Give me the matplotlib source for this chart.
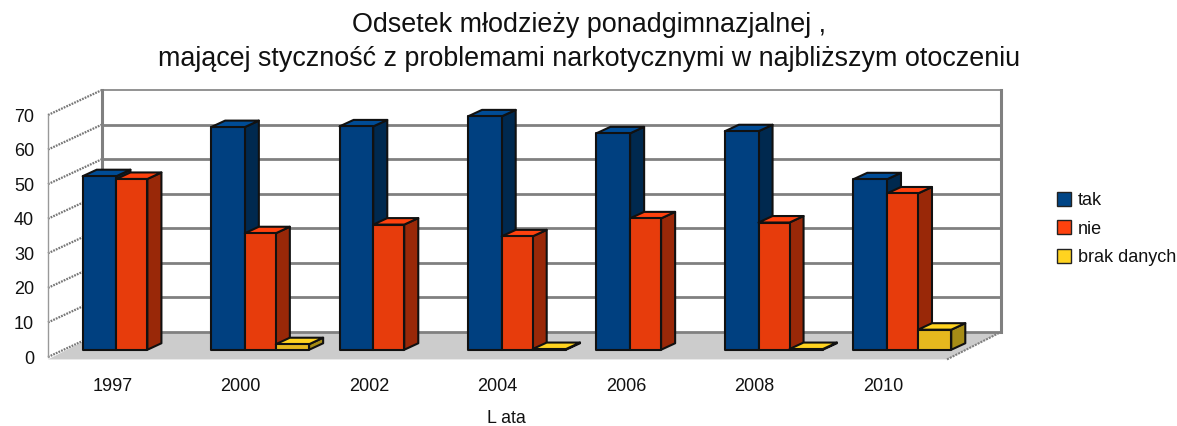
"""
Odsetek mlodziezy - 3D style clustered bars drawn on a flat axes.
"""
import matplotlib
matplotlib.use('Agg')  # Non-interactive backend for saving files
import matplotlib.pyplot as plt
from matplotlib.patches import Patch, Polygon

plt.rcParams['font.family'] = ['Liberation Sans', 'DejaVu Sans']

years = ['1997', '2000', '2002', '2004', '2006', '2008', '2010']
tak = [50.2, 64.4, 64.6, 67.5, 62.6, 63.2, 49.3]
nie = [49.4, 33.7, 36.2, 32.8, 38.0, 36.8, 45.2]
brak = [0, 1.6, 0, 0.2, 0, 0.2, 5.8]
y_ticks = [0, 10, 20, 30, 40, 50, 60, 70]
title = 'Odsetek młodzieży ponadgimnazjalnej ,\nmającej styczność z problemami narkotycznymi w najbliższym otoczeniu'

W, H = 1177, 426
LEFT, RIGHT, BOTTOM, TOP = 48, 947, 357, 115

# how far the back wall sits behind the front plane, in data units
DEPTH_X = 54 / ((RIGHT - LEFT) / 7)
DEPTH_Y = 25 / ((BOTTOM - TOP) / 70)


def proj(x, y, d=0.0):
    return (x + d * DEPTH_X, y + d * DEPTH_Y)


def draw_bar(ax, x0, x1, value, front, side, top, z):
    d0, d1 = 0.29, 0.55
    edge = dict(edgecolor='#111111', linewidth=1.5, joinstyle='round', clip_on=False, zorder=z)
    ax.add_patch(Polygon([proj(x1, 0, d0), proj(x1, 0, d1), proj(x1, value, d1), proj(x1, value, d0)],
                         facecolor=side, **edge))
    ax.add_patch(Polygon([proj(x0, value, d0), proj(x1, value, d0), proj(x1, value, d1), proj(x0, value, d1)],
                         facecolor=top, **edge))
    ax.add_patch(Polygon([proj(x0, 0, d0), proj(x1, 0, d0), proj(x1, value, d0), proj(x0, value, d0)],
                         facecolor=front, **edge))


fig = plt.figure(figsize=(W / 100, H / 100), dpi=100)
ax = fig.add_axes([LEFT / W, 1 - BOTTOM / H, (RIGHT - LEFT) / W, (BOTTOM - TOP) / H])
ax.set_xlim(-0.5, 6.5)
ax.set_ylim(0, 70)
for s in ax.spines.values():
    s.set_visible(False)
ax.set_xticks(range(len(years)), years)
ax.set_yticks(y_ticks)
ax.tick_params(axis='y', length=0, pad=10, labelsize=13, colors='#111111')
ax.tick_params(axis='x', length=0, pad=15, labelsize=13, colors='#111111')
ax.set_xlabel('L ata', fontsize=12.8, x=0.51, labelpad=11, color='#111111')

# floor
ax.add_patch(Polygon([proj(-0.5, -0.7), proj(6.5, -0.7), proj(6.5, 0, 1), proj(-0.5, 0, 1)],
                     facecolor='#cccccc', edgecolor='none', clip_on=False, zorder=1))
ax.plot(*zip(proj(6.5, -0.7), proj(6.5, 0, 1)), color='#808080', lw=1.5, ls=(0, (1, 0.5)), clip_on=False, zorder=2)

# walls and grid
for v in y_ticks:
    ax.plot(*zip(proj(-0.5, v), proj(-0.5, v, 1)), color='#777777', lw=1.6, ls=(0, (0.8, 0.5)),
            clip_on=False, zorder=2)
    ax.plot(*zip(proj(-0.5, v, 1), proj(6.5, v, 1)), color='#808080', lw=1.2 if v == 70 else 2,
            clip_on=False, zorder=2)
ax.plot(*zip(proj(-0.5, 0), proj(-0.5, 70)), color='#999999', lw=1, clip_on=False, zorder=2)
ax.plot(*zip(proj(-0.5, 0, 1), proj(-0.5, 70, 1)), color='#808080', lw=2.2, clip_on=False, zorder=2)
ax.plot(*zip(proj(6.5, 0, 1), proj(6.5, 70, 1)), color='#808080', lw=2.2, clip_on=False, zorder=2)

# bar offsets from the category centre
w = (RIGHT - LEFT) / 7
edges = [-45.2 / w, -11.5 / w, 19.5 / w, 52.8 / w]
colors = [
    ('#004080', '#00294f', '#004c96'),
    ('#e73c0c', '#992808', '#ff420e'),
    ('#e6b81e', '#a68c16', '#ffd320'),
]
z = 3
for i in range(len(years)):
    for j, series in enumerate([tak, nie, brak]):
        if series[i] == 0:
            continue
        front, side, top = colors[j]
        draw_bar(ax, i + edges[j], i + edges[j + 1], series[i], front, side, top, z)
        z += 1

handles = [Patch(facecolor='#004586', edgecolor='#222222', label='tak'),
           Patch(facecolor='#ff420e', edgecolor='#222222', label='nie'),
           Patch(facecolor='#ffd320', edgecolor='#222222', label='brak danych')]
fig.legend(handles=handles, loc='upper left', bbox_to_anchor=(1057 / W, 1 - 192 / H), frameon=False,
           fontsize=13, handlelength=0.78, handleheight=0.8, handletextpad=0.36, labelspacing=0.62,
           borderpad=0, borderaxespad=0, labelcolor='#111111')

fig.text(589 / W, 1 - 42 / H, title, ha='center', va='center', fontsize=19.4, linespacing=1.39, color='#111111')

fig.savefig('out.png', dpi=100)
